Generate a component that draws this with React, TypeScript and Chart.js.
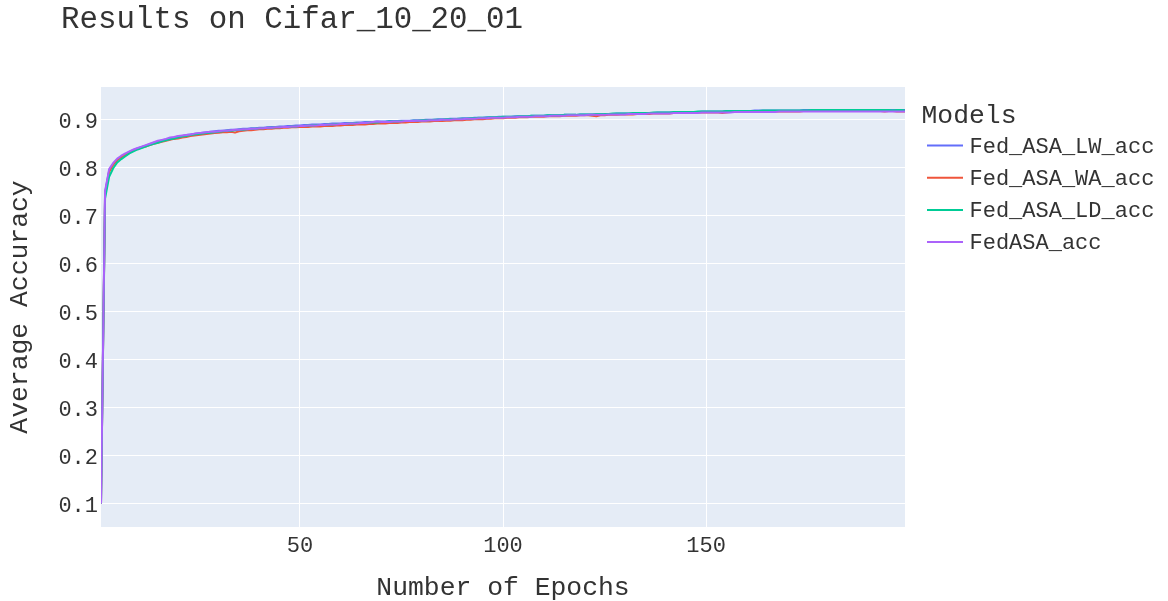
import React, { useEffect, useRef } from "react";
import { Chart, registerables } from "chart.js";

Chart.register(...registerables);

const TITLE = "Results on Cifar_10_20_01";
const X_TITLE = "Number of Epochs";
const Y_TITLE = "Average Accuracy";
const LEGEND_TITLE = "Models";
const X_TICKS = [50, 100, 150];
const Y_TICKS = [0.1, 0.2, 0.3, 0.4, 0.5, 0.6, 0.7, 0.8, 0.9];
const X_MIN = 1;
const X_MAX = 199;
const Y_MIN = 0.0513;
const Y_MAX = 0.967;

const SERIES_NAMES = ["Fed_ASA_LW_acc", "Fed_ASA_WA_acc", "Fed_ASA_LD_acc", "FedASA_acc"];
const SERIES_COLORS = ["#636efa", "#EF553B", "#00cc96", "#ab63fa"];

const fedAsaLwAcc = [
  0.100, 0.748, 0.793, 0.807, 0.816, 0.822, 0.827, 0.832, 0.836, 0.839,
  0.842, 0.845, 0.848, 0.851, 0.853, 0.856, 0.858, 0.860, 0.862, 0.864,
  0.865, 0.867, 0.868, 0.869, 0.871, 0.872, 0.873, 0.874, 0.875, 0.876,
  0.876, 0.877, 0.878, 0.878, 0.879, 0.880, 0.880, 0.881, 0.881, 0.882,
  0.882, 0.883, 0.884, 0.884, 0.885, 0.885, 0.886, 0.886, 0.887, 0.887,
  0.888, 0.888, 0.889, 0.889, 0.889, 0.890, 0.890, 0.891, 0.891, 0.891,
  0.892, 0.892, 0.892, 0.893, 0.893, 0.894, 0.894, 0.894, 0.895, 0.895,
  0.895, 0.896, 0.896, 0.896, 0.897, 0.897, 0.897, 0.898, 0.898, 0.898,
  0.899, 0.899, 0.899, 0.900, 0.900, 0.900, 0.901, 0.901, 0.901, 0.902,
  0.902, 0.902, 0.903, 0.903, 0.903, 0.904, 0.904, 0.904, 0.905, 0.905,
  0.905, 0.905, 0.906, 0.906, 0.906, 0.906, 0.907, 0.907, 0.907, 0.907,
  0.908, 0.908, 0.908, 0.908, 0.909, 0.909, 0.909, 0.909, 0.910, 0.910,
  0.910, 0.910, 0.910, 0.911, 0.911, 0.911, 0.911, 0.912, 0.912, 0.912,
  0.912, 0.912, 0.913, 0.913, 0.913, 0.913, 0.913, 0.914, 0.914, 0.914,
  0.914, 0.914, 0.915, 0.915, 0.915, 0.915, 0.915, 0.915, 0.916, 0.916,
  0.916, 0.916, 0.916, 0.916, 0.917, 0.917, 0.917, 0.917, 0.917, 0.917,
  0.917, 0.918, 0.918, 0.918, 0.918, 0.918, 0.918, 0.918, 0.918, 0.918,
  0.918, 0.918, 0.918, 0.919, 0.919, 0.919, 0.919, 0.919, 0.919, 0.919,
  0.919, 0.919, 0.919, 0.919, 0.919, 0.919, 0.919, 0.919, 0.919, 0.919,
  0.919, 0.919, 0.919, 0.919, 0.919, 0.919, 0.919, 0.919, 0.919,
];

const fedAsaWaAcc = [
  0.100, 0.744, 0.790, 0.805, 0.815, 0.821, 0.826, 0.831, 0.835, 0.838,
  0.841, 0.843, 0.846, 0.849, 0.851, 0.853, 0.855, 0.857, 0.859, 0.860,
  0.862, 0.863, 0.865, 0.866, 0.867, 0.868, 0.869, 0.870, 0.871, 0.872,
  0.873, 0.873, 0.874, 0.872, 0.875, 0.876, 0.877, 0.877, 0.878, 0.879,
  0.879, 0.880, 0.880, 0.881, 0.881, 0.882, 0.882, 0.883, 0.883, 0.884,
  0.884, 0.884, 0.885, 0.885, 0.885, 0.886, 0.886, 0.886, 0.887, 0.887,
  0.888, 0.888, 0.888, 0.889, 0.889, 0.889, 0.890, 0.890, 0.891, 0.891,
  0.891, 0.892, 0.892, 0.892, 0.893, 0.893, 0.894, 0.894, 0.894, 0.895,
  0.895, 0.895, 0.896, 0.896, 0.896, 0.897, 0.897, 0.898, 0.898, 0.898,
  0.899, 0.899, 0.900, 0.900, 0.900, 0.901, 0.901, 0.902, 0.902, 0.902,
  0.903, 0.903, 0.903, 0.904, 0.904, 0.904, 0.905, 0.905, 0.905, 0.905,
  0.906, 0.906, 0.906, 0.906, 0.907, 0.907, 0.907, 0.907, 0.908, 0.908,
  0.908, 0.907, 0.906, 0.908, 0.908, 0.909, 0.909, 0.909, 0.910, 0.910,
  0.910, 0.910, 0.911, 0.911, 0.911, 0.911, 0.912, 0.912, 0.912, 0.912,
  0.912, 0.913, 0.913, 0.913, 0.913, 0.913, 0.913, 0.914, 0.914, 0.914,
  0.914, 0.914, 0.914, 0.913, 0.914, 0.915, 0.915, 0.915, 0.915, 0.915,
  0.915, 0.915, 0.915, 0.916, 0.916, 0.916, 0.916, 0.916, 0.916, 0.916,
  0.916, 0.916, 0.916, 0.917, 0.917, 0.917, 0.917, 0.917, 0.917, 0.917,
  0.917, 0.917, 0.917, 0.917, 0.917, 0.917, 0.917, 0.917, 0.917, 0.917,
  0.917, 0.917, 0.917, 0.916, 0.917, 0.917, 0.916, 0.916, 0.916,
];

const fedAsaLdAcc = [
  0.100, 0.735, 0.780, 0.798, 0.810, 0.817, 0.823, 0.829, 0.833, 0.837,
  0.840, 0.843, 0.846, 0.849, 0.851, 0.854, 0.856, 0.858, 0.860, 0.862,
  0.864, 0.865, 0.867, 0.868, 0.869, 0.870, 0.871, 0.872, 0.873, 0.874,
  0.875, 0.876, 0.876, 0.877, 0.878, 0.878, 0.879, 0.880, 0.880, 0.881,
  0.881, 0.882, 0.882, 0.883, 0.883, 0.884, 0.884, 0.885, 0.885, 0.886,
  0.886, 0.887, 0.887, 0.888, 0.888, 0.888, 0.889, 0.889, 0.890, 0.890,
  0.890, 0.891, 0.891, 0.892, 0.892, 0.892, 0.893, 0.893, 0.893, 0.894,
  0.894, 0.895, 0.895, 0.895, 0.896, 0.896, 0.896, 0.897, 0.897, 0.898,
  0.898, 0.898, 0.899, 0.899, 0.899, 0.900, 0.900, 0.900, 0.901, 0.901,
  0.901, 0.902, 0.902, 0.903, 0.903, 0.903, 0.904, 0.904, 0.904, 0.905,
  0.905, 0.905, 0.905, 0.906, 0.906, 0.906, 0.907, 0.907, 0.907, 0.907,
  0.908, 0.908, 0.908, 0.908, 0.909, 0.909, 0.909, 0.909, 0.910, 0.910,
  0.910, 0.910, 0.911, 0.911, 0.911, 0.911, 0.912, 0.912, 0.912, 0.912,
  0.912, 0.913, 0.913, 0.913, 0.913, 0.913, 0.914, 0.914, 0.914, 0.914,
  0.914, 0.915, 0.915, 0.915, 0.915, 0.915, 0.915, 0.916, 0.916, 0.916,
  0.916, 0.916, 0.916, 0.916, 0.917, 0.917, 0.917, 0.917, 0.917, 0.917,
  0.917, 0.917, 0.917, 0.918, 0.918, 0.918, 0.918, 0.918, 0.918, 0.918,
  0.918, 0.918, 0.918, 0.918, 0.918, 0.919, 0.919, 0.919, 0.919, 0.919,
  0.919, 0.919, 0.919, 0.919, 0.919, 0.919, 0.919, 0.919, 0.919, 0.919,
  0.919, 0.919, 0.919, 0.919, 0.919, 0.918, 0.919, 0.919, 0.918,
];

const fedAsaAcc = [
  0.100, 0.750, 0.796, 0.809, 0.818, 0.824, 0.829, 0.833, 0.837, 0.840,
  0.843, 0.846, 0.849, 0.852, 0.855, 0.857, 0.859, 0.862, 0.863, 0.865,
  0.866, 0.867, 0.868, 0.870, 0.871, 0.872, 0.873, 0.874, 0.874, 0.875,
  0.876, 0.876, 0.877, 0.878, 0.878, 0.879, 0.879, 0.880, 0.880, 0.881,
  0.881, 0.882, 0.882, 0.883, 0.883, 0.884, 0.884, 0.885, 0.885, 0.886,
  0.886, 0.887, 0.887, 0.887, 0.888, 0.888, 0.889, 0.889, 0.889, 0.890,
  0.890, 0.891, 0.891, 0.891, 0.892, 0.892, 0.893, 0.894, 0.895, 0.894,
  0.894, 0.894, 0.895, 0.895, 0.895, 0.896, 0.896, 0.896, 0.897, 0.897,
  0.897, 0.898, 0.898, 0.898, 0.899, 0.899, 0.899, 0.900, 0.900, 0.900,
  0.901, 0.901, 0.901, 0.902, 0.902, 0.902, 0.903, 0.903, 0.903, 0.903,
  0.904, 0.904, 0.904, 0.905, 0.905, 0.905, 0.905, 0.906, 0.906, 0.906,
  0.906, 0.907, 0.907, 0.907, 0.907, 0.908, 0.908, 0.908, 0.908, 0.908,
  0.909, 0.909, 0.909, 0.909, 0.909, 0.910, 0.910, 0.910, 0.910, 0.910,
  0.911, 0.911, 0.911, 0.911, 0.911, 0.912, 0.912, 0.912, 0.912, 0.912,
  0.912, 0.913, 0.913, 0.913, 0.913, 0.913, 0.913, 0.913, 0.914, 0.914,
  0.914, 0.914, 0.914, 0.914, 0.914, 0.914, 0.915, 0.915, 0.915, 0.915,
  0.915, 0.915, 0.915, 0.915, 0.915, 0.915, 0.915, 0.916, 0.916, 0.916,
  0.916, 0.916, 0.916, 0.916, 0.916, 0.916, 0.916, 0.916, 0.916, 0.916,
  0.916, 0.916, 0.916, 0.916, 0.916, 0.916, 0.916, 0.916, 0.916, 0.916,
  0.916, 0.916, 0.916, 0.916, 0.916, 0.916, 0.916, 0.916, 0.916,
];

const SERIES_VALUES = [fedAsaLwAcc, fedAsaWaAcc, fedAsaLdAcc, fedAsaAcc];
const EPOCHS = fedAsaLwAcc.map((_, i) => i + 1);

const FONT = '"Liberation Mono", "Courier New", monospace';
const TEXT_COLOR = "#333333";
const PLOT_BG = "#E5ECF6";

const decorPlugin = {
  id: "decor",
  beforeDraw(chart: any) {
    const { ctx, chartArea: a } = chart;
    ctx.save();
    ctx.fillStyle = PLOT_BG;
    ctx.fillRect(a.left, a.top, a.right - a.left, a.bottom - a.top);
    ctx.restore();
  },
  afterDraw(chart: any) {
    const { ctx, chartArea: a } = chart;
    ctx.save();
    ctx.fillStyle = TEXT_COLOR;
    ctx.textBaseline = "alphabetic";

    ctx.font = `30.8px ${FONT}`;
    ctx.textAlign = "left";
    ctx.fillText(TITLE, 61, 28);

    ctx.font = `26.4px ${FONT}`;
    ctx.textAlign = "center";
    ctx.fillText(X_TITLE, (a.left + a.right) / 2, 595);

    ctx.save();
    ctx.translate(27, (a.top + a.bottom) / 2);
    ctx.rotate(-Math.PI / 2);
    ctx.fillText(Y_TITLE, 0, 0);
    ctx.restore();

    ctx.textAlign = "left";
    ctx.font = `26.4px ${FONT}`;
    ctx.fillText(LEGEND_TITLE, 921.5, 123);

    chart.data.datasets.forEach((ds: any, i: number) => {
      const y = 145.5 + i * 32.2;
      ctx.strokeStyle = ds.borderColor;
      ctx.lineWidth = 2;
      ctx.beginPath();
      ctx.moveTo(927, y);
      ctx.lineTo(963, y);
      ctx.stroke();
      ctx.font = `22px ${FONT}`;
      ctx.fillStyle = TEXT_COLOR;
      ctx.fillText(ds.label, 969.5, y + 7);
    });
    ctx.restore();
  },
};

export default function App() {
  const canvasRef = useRef<HTMLCanvasElement | null>(null);

  useEffect(() => {
    document.body.style.margin = "0";
    const canvas = canvasRef.current;
    if (!canvas) return;
    const datasets = SERIES_NAMES.map((name, si) => ({
      label: name,
      data: EPOCHS.map((e, i) => ({ x: e, y: SERIES_VALUES[si][i] })),
      borderColor: SERIES_COLORS[si],
      backgroundColor: SERIES_COLORS[si],
      borderWidth: 2,
      pointRadius: 0,
      pointHoverRadius: 0,
      tension: 0,
      fill: false,
      order: SERIES_NAMES.length - si,
      borderJoinStyle: "round" as const,
    }));

    const chart = new Chart(canvas, {
      type: "line",
      data: { datasets },
      options: {
        animation: false,
        responsive: false,
        maintainAspectRatio: false,
        devicePixelRatio: 1,
        layout: { padding: { left: 0, right: 263, top: 87, bottom: 0 } },
        plugins: {
          legend: { display: false },
          title: { display: false },
          tooltip: { enabled: false },
        },
        scales: {
          x: {
            type: "linear",
            min: X_MIN,
            max: X_MAX,
            afterBuildTicks: (scale: any) => {
              scale.ticks = X_TICKS.map((v) => ({ value: v }));
            },
            afterFit: (scale: any) => {
              scale.height = 74;
            },
            grid: { color: "#ffffff", lineWidth: 1, drawTicks: false },
            border: { display: false },
            ticks: {
              font: { family: FONT, size: 22 },
              color: TEXT_COLOR,
              padding: 6,
              maxRotation: 0,
              autoSkip: false,
              callback: (v: any) => String(v),
            },
          },
          y: {
            type: "linear",
            min: Y_MIN,
            max: Y_MAX,
            afterBuildTicks: (scale: any) => {
              scale.ticks = Y_TICKS.map((v) => ({ value: v }));
            },
            afterFit: (scale: any) => {
              scale.width = 101;
            },
            grid: { color: "#ffffff", lineWidth: 1, drawTicks: false },
            border: { display: false },
            ticks: {
              font: { family: FONT, size: 22 },
              color: TEXT_COLOR,
              padding: 3,
              labelOffset: 3,
              autoSkip: false,
              callback: (v: any) => Number(v).toFixed(1),
            },
          },
        },
      },
      plugins: [decorPlugin],
    });
    return () => chart.destroy();
  }, []);

  return (
    <div style={{ width: 1168, height: 601 }}>
      <canvas ref={canvasRef} width={1168} height={601} />
    </div>
  );
}
